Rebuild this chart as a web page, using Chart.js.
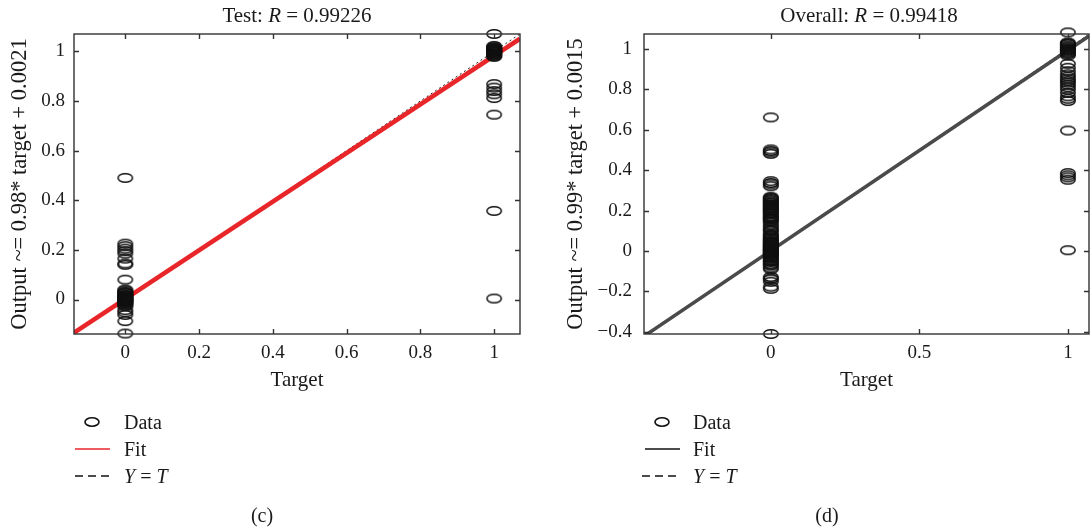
<!DOCTYPE html>
<html>
<head>
<meta charset="utf-8">
<script src="https://cdn.jsdelivr.net/npm/chart.js@4.4.1/dist/chart.umd.min.js"></script>
<style>
  html, body { margin: 0; padding: 0; width: 1092px; height: 529px; overflow: hidden; background: #fff; }
  body { position: relative; font-family: 'Liberation Serif', 'Times New Roman', serif; color: #1a1a1a; }
  canvas { position: absolute; top: 0; }
  .t { position: absolute; white-space: nowrap; line-height: 1; }
  .mid { transform: translate(-50%, -50%); }
  .lft { transform: translateY(-50%); }
  #marks { position: absolute; left: 0; top: 0; }
</style>
</head>
<body>
<canvas id="chartC" width="530" height="400" style="left:0"></canvas>
<canvas id="chartD" width="540" height="400" style="left:556px"></canvas>

<div class="t mid" style="left:297px; top:15px; font-size:21px">Test: <i>R</i> = 0.99226</div>
<div class="t mid" style="left:869px; top:15px; font-size:21px">Overall: <i>R</i> = 0.99418</div>

<svg id="marks" width="1092" height="529">
  <ellipse cx="92" cy="422" rx="7" ry="4.3" fill="none" stroke="#111" stroke-width="1.6"/>
  <line x1="75" y1="449" x2="110" y2="449" stroke="#e8262a" stroke-width="1.4"/>
  <line x1="75" y1="476" x2="110" y2="476" stroke="#111" stroke-width="1.4" stroke-dasharray="8 5"/>
  <ellipse cx="662" cy="422" rx="7" ry="4.3" fill="none" stroke="#111" stroke-width="1.6"/>
  <line x1="645" y1="449" x2="680" y2="449" stroke="#111" stroke-width="1.4"/>
  <line x1="642" y1="476" x2="680" y2="476" stroke="#111" stroke-width="1.4" stroke-dasharray="8 5"/>
</svg>
<div class="t lft" style="left:124px; top:422px; font-size:20px">Data</div>
<div class="t lft" style="left:124px; top:449px; font-size:20px">Fit</div>
<div class="t lft" style="left:124px; top:476px; font-size:20px"><i>Y</i> = <i>T</i></div>
<div class="t lft" style="left:693px; top:422px; font-size:20px">Data</div>
<div class="t lft" style="left:693px; top:449px; font-size:20px">Fit</div>
<div class="t lft" style="left:693px; top:476px; font-size:20px"><i>Y</i> = <i>T</i></div>
<div class="t mid" style="left:262px; top:515px; font-size:20px">(c)</div>
<div class="t mid" style="left:827px; top:515px; font-size:20px">(d)</div>

<script>
// (c) test set: network outputs for target 0 and target 1
const testOut0 = [0.49, 0.225, 0.215, 0.205, 0.195, 0.185, 0.165, 0.145, 0.14, 0.08,
  0.04, 0.036, 0.031, 0.027, 0.025, 0.02, 0.018, 0.015, 0.012, 0.01, 0.008, 0.006,
  0.004, 0.002, 0, -0.002, -0.004, -0.006, -0.008, -0.01, -0.013, -0.016, -0.02,
  -0.024, -0.028, -0.043, -0.052, -0.062, -0.087, -0.137];
const testOut1 = [1.07, 1.022, 1.017, 1.015, 1.012, 1.01, 1.007, 1.005, 1.002, 1.0,
  0.998, 0.995, 0.992, 0.99, 0.987, 0.984, 0.981, 0.978, 0.868, 0.854, 0.84, 0.827,
  0.812, 0.745, 0.357, 0.004];
const testFit = [[-0.139, -0.134], [1.07, 1.051]];   // Output ~= 0.98*T + 0.0021
const testDiag = [[-0.139, -0.139], [1.07, 1.07]];   // Y = T
const testLim = [-0.139, 1.07];
const testTicks = [0, 0.2, 0.4, 0.6, 0.8, 1];

// (d) all data
const allOut0 = [0.66, 0.502, 0.494, 0.487, 0.48, 0.345, 0.336, 0.329, 0.32,
  0.268, 0.262, 0.258, 0.252, 0.246, 0.241, 0.238, 0.231, 0.227, 0.224, 0.216,
  0.213, 0.21, 0.203, 0.199, 0.196, 0.188, 0.185, 0.181, 0.172, 0.168, 0.163,
  0.158, 0.155, 0.147, 0.142, 0.13, 0.121, 0.112, 0.104, 0.098, 0.086, 0.08,
  0.074, 0.066, 0.061, 0.058, 0.05, 0.047, 0.044, 0.038, 0.034, 0.031, 0.026,
  0.023, 0.02, 0.014, 0.011, 0.009, 0.004, 0.002, 0, -0.005, -0.008, -0.01,
  -0.016, -0.019, -0.022, -0.029, -0.033, -0.036, -0.045, -0.05, -0.054, -0.063,
  -0.068, -0.072, -0.082, -0.09, -0.128, -0.136, -0.14, -0.152, -0.176, -0.187, -0.41];
const allOut1 = [1.08, 1.03, 1.026, 1.022, 1.015, 1.01, 1.005, 1.0, 0.997, 0.993,
  0.989, 0.984, 0.978, 0.972, 0.966, 0.925, 0.905, 0.888, 0.873, 0.862, 0.851,
  0.841, 0.832, 0.821, 0.809, 0.797, 0.781, 0.764, 0.752, 0.741, 0.595, 0.385,
  0.374, 0.364, 0.352, 0.004];
const allFit = [[-0.427, -0.421], [1.071, 1.062]];   // Output ~= 0.99*T + 0.0015
const allDiag = [[-0.427, -0.427], [1.071, 1.071]];
const allLimX = [-0.427, 1.071];
const allLimY = [-0.41, 1.072];
const allTicksX = [0, 0.5, 1];
const allTicksY = [-0.4, -0.2, 0, 0.2, 0.4, 0.6, 0.8, 1];

const FONT = "'Liberation Serif', 'Times New Roman', serif";

// open ellipse marker like the MATLAB 'o'
function ellipseMarker(color) {
  const c = document.createElement('canvas');
  c.width = 18; c.height = 12;
  const g = c.getContext('2d');
  g.strokeStyle = color;
  g.lineWidth = 1.5;
  g.beginPath();
  g.ellipse(9, 6, 7.2, 4.3, 0, 0, Math.PI * 2);
  g.stroke();
  return c;
}

// box frame with inward ticks on all four sides
const framePlugin = {
  id: 'frame',
  afterDatasetsDraw(chart, args, opts) {
    const { ctx, chartArea: a, scales } = chart;
    ctx.save();
    ctx.strokeStyle = opts.color || '#333';
    ctx.lineWidth = 1.4;
    ctx.beginPath();
    scales.x.ticks.forEach(t => {
      const px = Math.round(scales.x.getPixelForValue(t.value)) + 0.5;
      ctx.moveTo(px, a.bottom); ctx.lineTo(px, a.bottom - 5);
      ctx.moveTo(px, a.top); ctx.lineTo(px, a.top + 5);
    });
    scales.y.ticks.forEach(t => {
      const py = Math.round(scales.y.getPixelForValue(t.value)) + 0.5;
      ctx.moveTo(a.left, py); ctx.lineTo(a.left + 5, py);
      ctx.moveTo(a.right, py); ctx.lineTo(a.right - 5, py);
    });
    ctx.stroke();
    ctx.strokeRect(a.left, a.top, a.right - a.left, a.bottom - a.top);
    ctx.restore();
  }
};

const pts = (arr) => arr.map(p => ({ x: p[0], y: p[1] }));
const col = (x, arr) => arr.map(y => ({ x: x, y: y }));
const fmt = (v) => String(v).replace('-', '\u2212');

function buildPanel(id, p) {
  const marker = ellipseMarker('#111');
  new Chart(document.getElementById(id), {
    type: 'scatter',
    data: {
      datasets: [
        { data: col(0, p.out0).concat(col(1, p.out1)), pointStyle: marker, pointRadius: 6,
          clip: 12, order: 0 },
        { data: pts(p.fit), showLine: true, borderColor: p.fitColor, borderWidth: p.fitWidth,
          pointRadius: 0, order: 1 },
        { data: pts(p.diag), showLine: true, borderColor: '#222', borderWidth: 1,
          borderDash: [2, 3], pointRadius: 0, order: 2 }
      ]
    },
    options: {
      responsive: false,
      animation: false,
      layout: { padding: { top: 34, right: p.padRight, bottom: 0, left: 0 } },
      plugins: { legend: { display: false }, tooltip: { enabled: false },
                 frame: { color: '#333' } },
      scales: {
        x: {
          min: p.limX[0], max: p.limX[1],
          grid: { display: false, drawTicks: false },
          border: { display: false },
          afterBuildTicks: s => { s.ticks = p.ticksX.map(v => ({ value: v })); },
          afterFit: s => { s.height = 66; },
          ticks: { padding: 8, color: '#1a1a1a', font: { family: FONT, size: 19 },
                   maxRotation: 0, callback: fmt },
          title: { display: true, text: 'Target', color: '#1a1a1a',
                   font: { family: FONT, size: 21 }, padding: { top: 0, bottom: 7 } }
        },
        y: {
          min: p.limY[0], max: p.limY[1],
          grid: { display: false, drawTicks: false },
          border: { display: false },
          afterBuildTicks: s => { s.ticks = p.ticksY.map(v => ({ value: v })); },
          afterFit: s => { s.width = p.yWidth; },
          ticks: { padding: p.yPad, color: '#1a1a1a', font: { family: FONT, size: 19 },
                   callback: fmt },
          title: { display: true, text: p.yTitle, color: '#1a1a1a',
                   font: { family: FONT, size: 22.5 }, padding: { top: 7, bottom: 0 } }
        }
      }
    },
    plugins: [framePlugin]
  });
}

buildPanel('chartC', {
  out0: testOut0, out1: testOut1, fit: testFit, diag: testDiag,
  limX: testLim, limY: testLim, ticksX: testTicks, ticksY: testTicks,
  fitColor: '#e8262a', fitWidth: 4.5, padRight: 10, yWidth: 74, yPad: 9,
  yTitle: 'Output ~= 0.98* target + 0.0021'
});

buildPanel('chartD', {
  out0: allOut0, out1: allOut1, fit: allFit, diag: allDiag,
  limX: allLimX, limY: allLimY, ticksX: allTicksX, ticksY: allTicksY,
  fitColor: '#4a4a4a', fitWidth: 3.5, padRight: 2, yWidth: 88, yPad: 12,
  yTitle: 'Output ~= 0.99* target + 0.0015'
});
</script>
</body>
</html>
